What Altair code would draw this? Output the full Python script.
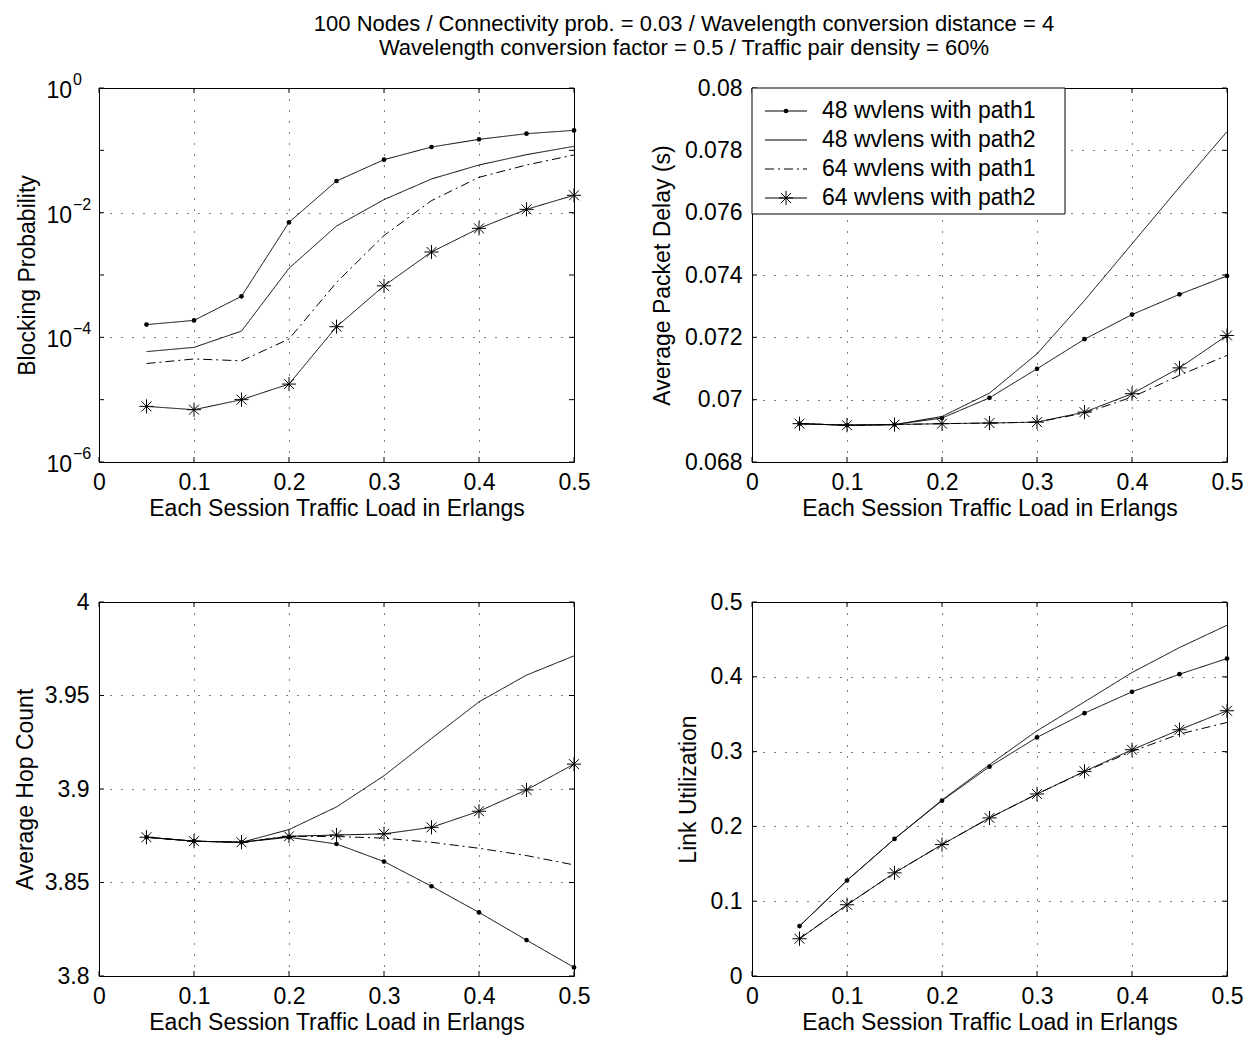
import altair as alt
import pandas as pd

FONT = "Liberation Sans"
FS = 23
W, H = 475, 374
TICK = 5

# ---------------- data ----------------
series = ["48 wvlens with path1", "48 wvlens with path2",
          "64 wvlens with path1", "64 wvlens with path2"]
load = [0.05, 0.10, 0.15, 0.20, 0.25, 0.30, 0.35, 0.40, 0.45, 0.50]

bp_48_p1 = [1.6e-4, 1.87e-4, 4.55e-4, 7.0e-3, 0.0322, 0.0708, 0.113, 0.150, 0.185, 0.209]
bp_48_p2 = [5.9e-5, 6.9e-5, 1.26e-4, 1.28e-3, 6.1e-3, 0.0162, 0.0347, 0.0582, 0.0852, 0.116]
bp_64_p1 = [3.8e-5, 4.5e-5, 4.2e-5, 9.4e-5, 7.6e-4, 4.3e-3, 0.0156, 0.0369, 0.0582, 0.0842]
bp_64_p2 = [7.8e-6, 6.9e-6, 1.0e-5, 1.78e-5, 1.48e-4, 6.7e-4, 2.34e-3, 5.6e-3, 0.0113, 0.019]

d_48_p1 = [0.06923, 0.06918, 0.06920, 0.06941, 0.07006, 0.07099, 0.07194, 0.07273, 0.07338, 0.07397]
d_48_p2 = [0.06923, 0.06918, 0.06920, 0.06946, 0.07021, 0.07147, 0.07318, 0.07500, 0.07682, 0.07860]
d_64_p1 = [0.06923, 0.06918, 0.06920, 0.06923, 0.06925, 0.06928, 0.06957, 0.07008, 0.07078, 0.07142]
d_64_p2 = [0.06923, 0.06918, 0.06920, 0.06923, 0.06925, 0.06928, 0.06960, 0.07019, 0.07102, 0.07206]

h_48_p1 = [3.8742, 3.8721, 3.8715, 3.8742, 3.8706, 3.8612, 3.8480, 3.8340, 3.8192, 3.8046]
h_48_p2 = [3.8742, 3.8721, 3.8715, 3.8783, 3.8904, 3.9071, 3.9270, 3.9466, 3.9609, 3.9712]
h_64_p1 = [3.8742, 3.8721, 3.8715, 3.8747, 3.8746, 3.8737, 3.8715, 3.8683, 3.8644, 3.8594]
h_64_p2 = [3.8742, 3.8721, 3.8715, 3.8747, 3.8754, 3.8760, 3.8795, 3.8881, 3.8995, 3.9133]

u_48_p1 = [0.0667, 0.1277, 0.1833, 0.2344, 0.2798, 0.3190, 0.3514, 0.3799, 0.4035, 0.4244]
u_48_p2 = [0.0667, 0.1277, 0.1833, 0.2353, 0.2825, 0.3278, 0.3665, 0.4057, 0.4391, 0.4689]
u_64_p1 = [0.0498, 0.0952, 0.1379, 0.1757, 0.2113, 0.2433, 0.2731, 0.3003, 0.3234, 0.3390]
u_64_p2 = [0.0498, 0.0952, 0.1379, 0.1757, 0.2113, 0.2433, 0.2736, 0.3025, 0.3292, 0.3546]

x_ticks = [0, 0.1, 0.2, 0.3, 0.4, 0.5]
bp_grid = [1e-6, 1e-4, 1e-2, 1]
bp_ticks = [1e-6, 1e-5, 1e-4, 1e-3, 1e-2, 1e-1, 1]
bp_exponents = ["\u22126", "\u22124", "\u22122", "0"]
d_ticks = [0.068, 0.070, 0.072, 0.074, 0.076, 0.078, 0.080]
h_ticks = [3.80, 3.85, 3.90, 3.95, 4.00]
u_ticks = [0, 0.1, 0.2, 0.3, 0.4, 0.5]

title_lines = ["100 Nodes / Connectivity prob. = 0.03 / Wavelength conversion distance = 4",
               "Wavelength conversion factor = 0.5 / Traffic pair density = 60%"]
x_title = "Each Session Traffic Load in Erlangs"

# ---------------- helpers ----------------
dash_scale = alt.Scale(domain=series, range=[[1, 0], [1, 0], [9, 4, 2, 4], [1, 0]])
STAR = "M0,-1L0,1M-1,0L1,0M-0.7,-0.7L0.7,0.7M-0.7,0.7L0.7,-0.7"
xs = alt.Scale(domain=[0, 0.5], nice=False, zero=False)


def long_df(vals):
    rows = []
    for s, ys in zip(series, vals):
        for x, y in zip(load, ys):
            rows.append({"x": x, "y": y, "s": s})
    return pd.DataFrame(rows)


def panel(vals, ys, ytitle, title_x, ygrid, yticks, ylabels=True, log_labels=False, legend=False):
    df = long_df(vals)
    base = alt.Chart(df)
    xaxis = alt.Axis(values=x_ticks, format="~g", title=x_title, grid=True)
    yaxis = alt.Axis(values=ygrid, format="~g", title=ytitle, titleX=title_x,
                     labels=ylabels, grid=True)
    lines = base.mark_line(color="black", strokeWidth=1).encode(
        x=alt.X("x:Q", scale=xs, axis=xaxis),
        y=alt.Y("y:Q", scale=ys, axis=yaxis),
        strokeDash=alt.StrokeDash("s:N", scale=dash_scale, legend=None),
    )
    dots = base.transform_filter(alt.datum.s == series[0]).mark_point(
        shape="circle", filled=True, color="black", size=22, opacity=1
    ).encode(x="x:Q", y="y:Q")
    stars = base.transform_filter(alt.datum.s == series[3]).mark_point(
        shape=STAR, filled=False, color="black", size=200, strokeWidth=1, opacity=1
    ).encode(x="x:Q", y="y:Q")

    yt = alt.Chart(pd.DataFrame({"v": yticks}))
    yl = yt.mark_rule(color="black", strokeWidth=1).encode(
        y="v:Q", x=alt.value(0), x2=alt.value(TICK))
    yr = yt.mark_rule(color="black", strokeWidth=1).encode(
        y="v:Q", x=alt.value(W - TICK), x2=alt.value(W))
    xt = alt.Chart(pd.DataFrame({"v": x_ticks}))
    xb = xt.mark_rule(color="black", strokeWidth=1).encode(
        x="v:Q", y=alt.value(H), y2=alt.value(H - TICK))
    xtop = xt.mark_rule(color="black", strokeWidth=1).encode(
        x="v:Q", y=alt.value(0), y2=alt.value(TICK))

    layers = [lines, dots, stars, yl, yr, xb, xtop]

    if log_labels:
        lab = alt.Chart(pd.DataFrame({"v": bp_grid, "e": bp_exponents}))
        tens = lab.mark_text(text="10", align="right", baseline="middle", fontSize=FS,
                             font=FONT, color="black", dx=-27, dy=3).encode(
            y="v:Q", x=alt.value(0))
        exps = lab.mark_text(align="left", baseline="middle", fontSize=16,
                             font=FONT, color="black", dx=-26, dy=-8).encode(
            y="v:Q", x=alt.value(0), text="e:N")
        layers += [tens, exps]

    if legend:
        leg = alt.Chart(pd.DataFrame({"s": series, "row": [0, 1, 2, 3]})).transform_calculate(
            py="23 + datum.row * 29")
        box = alt.Chart(pd.DataFrame({"a": [0]})).mark_rect(
            fill="white", stroke="black", strokeWidth=1).encode(
            x=alt.value(0), x2=alt.value(313), y=alt.value(0), y2=alt.value(126))
        samp = leg.mark_rule(color="black", strokeWidth=1).encode(
            x=alt.value(13), x2=alt.value(55), y=alt.Y("py:Q", scale=None),
            strokeDash=alt.StrokeDash("s:N", scale=dash_scale, legend=None))
        txt = leg.mark_text(align="left", baseline="middle", fontSize=FS, font=FONT,
                            color="black").encode(
            x=alt.value(70), y=alt.Y("py:Q", scale=None), text="s:N")
        ldot = leg.transform_filter(alt.datum.row == 0).mark_point(
            shape="circle", filled=True, color="black", size=22, opacity=1).encode(
            x=alt.value(34), y=alt.Y("py:Q", scale=None))
        lstar = leg.transform_filter(alt.datum.row == 3).mark_point(
            shape=STAR, filled=False, color="black", size=200, strokeWidth=1, opacity=1).encode(
            x=alt.value(34), y=alt.Y("py:Q", scale=None))
        layers += [box, samp, txt, ldot, lstar]

    return alt.layer(*layers).properties(width=W, height=H)


tl = panel([bp_48_p1, bp_48_p2, bp_64_p1, bp_64_p2],
           alt.Scale(type="log", domain=[1e-6, 1], nice=False),
           "Blocking Probability", -72, bp_grid, bp_ticks, ylabels=False, log_labels=True)
tr = panel([d_48_p1, d_48_p2, d_64_p1, d_64_p2],
           alt.Scale(domain=[0.068, 0.08], nice=False, zero=False),
           "Average Packet Delay (s)", -90, d_ticks, d_ticks, legend=True)
bl = panel([h_48_p1, h_48_p2, h_64_p1, h_64_p2],
           alt.Scale(domain=[3.8, 4.0], nice=False, zero=False),
           "Average Hop Count", -74, h_ticks, h_ticks)
br = panel([u_48_p1, u_48_p2, u_64_p1, u_64_p2],
           alt.Scale(domain=[0, 0.5], nice=False, zero=False),
           "Link Utilization", -64, u_ticks, u_ticks)

chart = alt.concat(
    tl, tr, bl, br, columns=2,
    spacing={"row": 140, "column": 178},
    bounds="flush",
    title=alt.TitleParams(title_lines, font=FONT, fontSize=22, fontWeight="normal",
                          color="black", anchor="start", align="center", frame="group",
                          dx=585, lineHeight=24, offset=12),
).properties(
    padding={"top": 4, "left": 5, "right": 5, "bottom": 5}
).configure_view(
    stroke="black", strokeWidth=1
).configure_axis(
    domain=False, ticks=False, grid=True, gridColor="black", gridDash=[1, 10],
    gridWidth=1, gridOpacity=1, labelFont=FONT, labelFontSize=FS, labelColor="black",
    titleFont=FONT, titleFontSize=FS, titleFontWeight="normal", titleColor="black",
    labelFlush=False, labelOverlap=False, labelBound=False,
    labelPadding=9, titlePadding=3
).configure_axisY(
    titleBaseline="middle", titleAngle=270, labelPadding=10
)

chart.save("out.html", embed_options={"renderer": "svg", "actions": False})
